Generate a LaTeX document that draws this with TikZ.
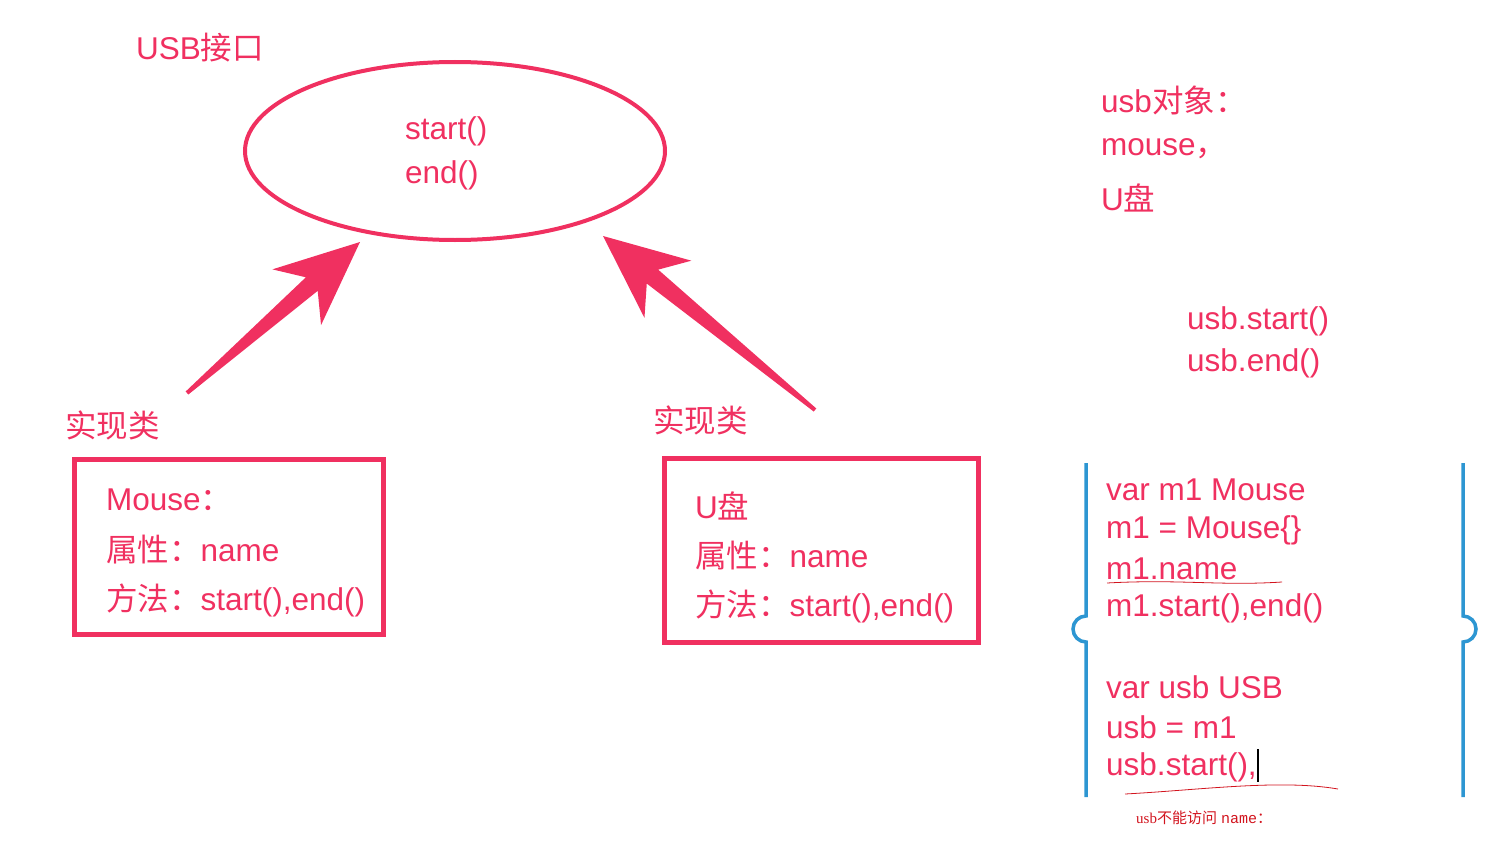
\documentclass[tikz,border=0pt]{standalone}
\usepackage{fontspec}
\setmainfont{Liberation Sans}
\setmonofont{Liberation Mono}
\newfontfamily\cjk{Noto Sans CJK SC}
\newfontfamily\notefont{Liberation Serif}
\usetikzlibrary{shapes.geometric,calc}

\definecolor{usbpink}{RGB}{240,48,96}
\definecolor{codeblue}{RGB}{45,150,210}
\definecolor{inkred}{RGB}{210,20,30}

\newcommand{\zh}[1]{{\cjk #1}}
% fat arrow: #1 tail, #2 tip
\newcommand{\fatarrow}[2]{%
	\fill[usbpink] ($(#1)!2pt!-90:(#2)$) -- ($(#2)!64pt!(#1)!9pt!90:(#1)$) -- ($(#2)!84pt!(#1)!37pt!90:(#1)$) -- (#2)
		-- ($(#2)!84pt!(#1)!37pt!-90:(#1)$) -- ($(#2)!64pt!(#1)!9pt!-90:(#1)$) -- ($(#1)!2pt!90:(#2)$) -- cycle;}

\begin{document}
\begin{tikzpicture}[x=1pt,y=-1pt]

	\tikzstyle big text=[text=usbpink, font=\fontsize{31.5}{36}\selectfont, inner sep=0pt, anchor=west];
	\tikzstyle class box=[draw=usbpink, line width=5pt];
	\tikzstyle bracket lines=[draw=codeblue, line width=3.5pt];
	\tikzstyle ink lines=[draw=inkred, line width=0.8pt];

	\useasboundingbox (0,0) rectangle (1509,856);

	% interface
	\node[big text] (usbtitle) at (136,48) {USB\zh{接口}};
	\node[draw=usbpink, line width=4pt, ellipse, minimum width=420pt, minimum height=178pt] (usb) at (455,151) {};
	\node[big text] (usbstart) at (405,131) {start()};
	\node[big text] (usbend) at (405,175) {end()};

	% implementations
	\node[big text] (impll) at (65,425) {\zh{实现类}};
	\node[big text] (implr) at (653,420) {\zh{实现类}};

	\coordinate (taill) at (187,393);
	\coordinate (tipl) at (360,242);
	\coordinate (tailr) at (815,410);
	\coordinate (tipr) at (603,236);
	\fatarrow{taill}{tipl}
	\fatarrow{tailr}{tipr}

	\draw[class box] (74,459) rectangle (383,634);
		\foreach \y/\t [count=\i] in {500/{Mouse\zh{：}},550/{\zh{属性：}name},600/{\zh{方法：}start(),end()}}
			\node[big text] (mouse\i) at (106,\y) {\t};

	\draw[class box] (664,458) rectangle (978,642);
		\foreach \y/\t [count=\i] in {506/{U\zh{盘}},556/{\zh{属性：}name},606/{\zh{方法：}start(),end()}}
			\node[big text] (udisk\i) at (695,\y) {\t};

	% objects
	\foreach \y/\t [count=\i] in {100/{usb\zh{对象：}},149/{mouse\zh{，}},198/{U\zh{盘}}}
		\node[big text] (obj\i) at (1101,\y) {\t};
	\node[big text] (callstart) at (1187,321) {usb.start()};
	\node[big text] (callend) at (1187,363) {usb.end()};

	% code
	\draw[bracket lines] (1086,463) -- (1086,616) arc[start angle=-90, end angle=-270, radius=13] -- (1086,797);
	\draw[bracket lines] (1463,463) -- (1463,616) arc[start angle=-90, end angle=90, radius=13] -- (1463,797);
	\foreach \y/\t [count=\i] in {490/var m1 Mouse,530/m1 = Mouse\{\},569/m1.name,608/{m1.start(),end()},687/var usb USB,727/usb = m1,767/{usb.start(),}}
		\node[big text] (code\i) at (1106,\y) {\t};
	\draw[black, line width=1.5pt] (1258,749) -- (1258,782);

	\draw[ink lines] (1107,583) .. controls (1180,579) and (1220,586) .. (1282,582);
	\draw[ink lines] (1125,794) .. controls (1200,790) and (1280,779) .. (1338,789);
	\node[text=inkred, font=\fontsize{15}{17}\selectfont, inner sep=0pt, anchor=west] (note) at (1136,818) {{\notefont usb}\zh{不能访问} {\ttfamily name}\zh{：}};

\end{tikzpicture}
\end{document}
